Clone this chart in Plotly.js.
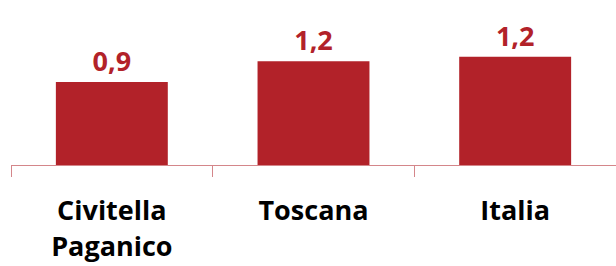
<!DOCTYPE html>
<html>
<head>
<meta charset="utf-8">
<script src="https://cdn.plot.ly/plotly-3.0.1.min.js"></script>
<style>html,body{margin:0;padding:0;background:#fff;}#chart{width:616px;height:266px;}</style>
</head>
<body>
<div id="chart"></div>
<script>
const categories = ["Civitella<br>Paganico", "Toscana", "Italia"];
const values = [0.92, 1.15, 1.20];
const valueLabels = ["0,9", "1,2", "1,2"];

const barColor = "#B22229";
const axisColor = "#D4868A";

Plotly.newPlot("chart", [{
  type: "bar",
  x: categories,
  y: values,
  text: valueLabels,
  textposition: "outside",
  cliponaxis: false,
  textfont: {family: "Open Sans", size: 27, color: barColor, weight: 700},
  marker: {color: barColor, line: {width: 0}},
  hoverinfo: "skip"
}], {
  width: 616,
  height: 266,
  margin: {l: 11, r: 0, t: 0, b: 101, pad: 0},
  paper_bgcolor: "#fff",
  plot_bgcolor: "#fff",
  bargap: 0.445,
  showlegend: false,
  xaxis: {
    showline: true,
    linecolor: axisColor,
    linewidth: 1,
    ticks: "outside",
    tickson: "boundaries",
    ticklen: 11,
    tickcolor: axisColor,
    tickwidth: 1,
    ticklabelstandoff: 22,
    tickfont: {family: "Open Sans", size: 27, color: "#000", weight: 700},
    showgrid: false,
    zeroline: false,
    fixedrange: true
  },
  yaxis: {
    visible: false,
    range: [0, 1.83],
    showgrid: false,
    zeroline: false,
    fixedrange: true
  }
}, {displayModeBar: false, staticPlot: true});
</script>
</body>
</html>
